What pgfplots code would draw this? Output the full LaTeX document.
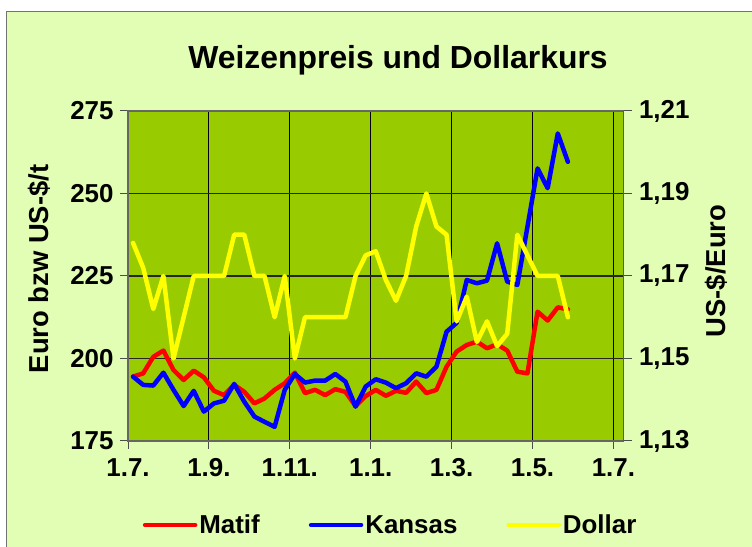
\documentclass[border=0pt]{standalone}
\usepackage{fontspec}
\setmainfont{Liberation Sans}
\usepackage{pgfplots}
\usepackage{pgfplotstable}
\pgfplotsset{compat=1.18}
\definecolor{bgouter}{RGB}{226,253,180}
\definecolor{plotgreen}{RGB}{153,204,0}
\definecolor{dyellow}{RGB}{255,255,0}

\pgfplotstableread{
i matif kansas dollar
0 194.5 194.5 1.178
1 195.5 192.0 1.172
2 200.5 191.8 1.162
3 202.4 195.7 1.170
4 196.5 190.5 1.150
5 193.5 185.6 1.160
6 196.3 190.2 1.170
7 194.3 183.9 1.170
8 190.2 186.4 1.170
9 188.9 187.2 1.170
10 192.0 192.3 1.180
11 189.9 186.9 1.180
12 186.4 182.4 1.170
13 187.9 180.8 1.170
14 190.5 179.3 1.160
15 192.5 190.5 1.170
16 195.7 195.3 1.150
17 189.5 192.7 1.160
18 190.5 193.3 1.160
19 188.9 193.3 1.160
20 190.7 195.3 1.160
21 189.9 193.0 1.160
22 185.6 185.4 1.170
23 188.6 191.5 1.175
24 190.5 193.7 1.176
25 188.7 192.7 1.169
26 190.2 191.0 1.164
27 189.6 192.5 1.170
28 193.0 195.5 1.182
29 189.5 194.5 1.190
30 190.5 197.5 1.182
31 197.5 208.1 1.180
32 202.1 210.8 1.159
33 204.1 223.8 1.165
34 205.1 222.8 1.154
35 203.1 223.6 1.159
36 204.3 234.9 1.153
37 202.4 223.3 1.156
38 196.0 222.3 1.180
39 195.5 239.9 1.175
40 214.2 257.6 1.170
41 211.5 251.6 1.170
42 215.5 268.2 1.170
43 214.9 259.6 1.160
}\datatable

\begin{document}
\begin{tikzpicture}[x=1bp,y=1bp]
\path[use as bounding box] (0,0) rectangle (752,547);
\fill[white] (0,0) rectangle (752,547);
\draw[fill=bgouter, draw=black!55, line width=1.3bp] (6.5,-20) rectangle (780,535.5);

\node[font=\fontsize{32}{38}\selectfont\bfseries] at (398,487) {Weizenpreis und Dollarkurs};
\node[font=\fontsize{27.5}{32}\selectfont\bfseries, rotate=90] at (39,278) {Euro bzw US-\$/t};
\node[font=\fontsize{27.5}{32}\selectfont\bfseries, rotate=90] at (716,276) {US-\$/Euro};

\begin{axis}[
  at={(128bp,106bp)}, anchor=south west,
  width=495.5bp, height=330bp, scale only axis,
  xmin=-0.5, xmax=48.5, ymin=175, ymax=275,
  xtick={-0.5,7.5,15.5,23.5,31.5,39.5,47.5},
  xticklabels={1.7.,1.9.,1.11.,1.1.,1.3.,1.5.,1.7.},
  ytick={175,200,225,250,275},
  ytick pos=left, xtick pos=lower,
  axis background/.style={fill=plotgreen},
  grid=major,
  x grid style={black, line width=1bp},
  y grid style={black!85, line width=1.4bp},
  axis line style={black!60, line width=1.6bp},
  tick align=outside,
  major tick length=8bp,
  tick style={black!70, line width=1bp},
  /pgf/number format/assume math mode=true,
  ticklabel style={font=\fontsize{26}{31}\selectfont\bfseries},
  yticklabel style={xshift=-3bp},
  xticklabel style={yshift=-6bp},
  legend columns=3,
  legend style={at={(0.53,-0.2545)}, anchor=center, draw=none, fill=none,
    font=\fontsize{26}{31}\selectfont\bfseries,
    /tikz/every even column/.append style={column sep=47bp}},
  legend image code/.code={\draw[#1, line width=4.5bp, line cap=round] (0bp,0bp) -- (50bp,0bp);},
]
\addplot[red, line width=4.5bp, line join=round, line cap=round] table[x=i, y=matif] {\datatable};
\addlegendentry{Matif}
\addplot[blue, line width=4.5bp, line join=round, line cap=round] table[x=i, y=kansas] {\datatable};
\addlegendentry{Kansas}
\addlegendimage{dyellow}
\addlegendentry{Dollar}
\end{axis}

\begin{axis}[
  at={(128bp,106bp)}, anchor=south west,
  width=495.5bp, height=330bp, scale only axis,
  xmin=-0.5, xmax=48.5, ymin=1.13, ymax=1.21,
  ytick={1.13,1.15,1.17,1.19,1.21},
  axis y line*=right,
  axis x line=none,
  axis line style={black!65, line width=1.6bp},
  tick align=outside,
  major tick length=8bp,
  tick style={black!70, line width=1bp},
  /pgf/number format/assume math mode=true,
  yticklabel={\pgfmathprintnumber[fixed, fixed zerofill, precision=2, use comma]{\tick}},
  ticklabel style={font=\fontsize{26}{31}\selectfont\bfseries},
  yticklabel style={xshift=4bp},
]
\addplot[dyellow, line width=4.5bp, line join=round, line cap=round] table[x=i, y=dollar] {\datatable};
\end{axis}
\end{tikzpicture}
\end{document}
